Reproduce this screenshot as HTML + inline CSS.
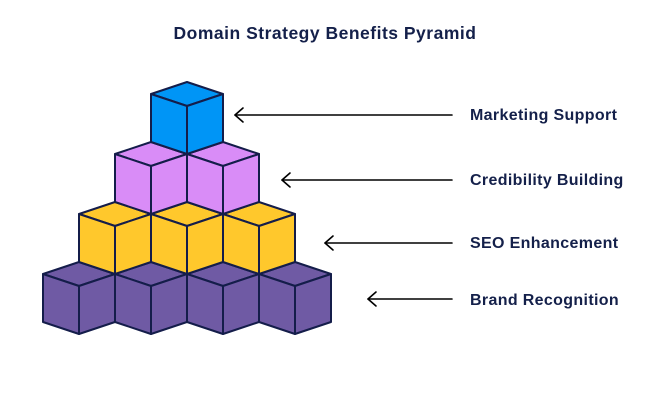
<!DOCTYPE html>
<html><head><meta charset="utf-8"><style>
html,body{margin:0;padding:0;background:#fff;width:650px;height:400px;overflow:hidden}
svg text{font-family:"Liberation Sans",sans-serif;fill:#14204a;font-weight:bold}
</style></head><body>
<svg id="s" width="650" height="400" viewBox="0 0 650 400" xmlns="http://www.w3.org/2000/svg">
<text x="325" y="39" text-anchor="middle" font-size="17.5" letter-spacing="0.5">Domain Strategy Benefits Pyramid</text>
<g stroke="#000" stroke-width="1.6" fill="none" stroke-linecap="round" stroke-linejoin="round">
<line x1="452" y1="115" x2="235" y2="115"/><polyline points="243,108 235,115 243,122"/>
<line x1="452" y1="180" x2="282" y2="180"/><polyline points="290,173 282,180 290,187"/>
<line x1="452" y1="243" x2="325" y2="243"/><polyline points="333,236 325,243 333,250"/>
<line x1="452" y1="299" x2="368" y2="299"/><polyline points="376,292 368,299 376,306"/>
</g>
<text x="470" y="120" font-size="16" letter-spacing="0.35">Marketing Support</text>
<text x="470" y="185" font-size="16" letter-spacing="0.35">Credibility Building</text>
<text x="470" y="248" font-size="16" letter-spacing="0.35">SEO Enhancement</text>
<text x="470" y="305" font-size="16" letter-spacing="0.35">Brand Recognition</text>
<g id="cubes" stroke="#141d4a" stroke-width="2" stroke-linejoin="round"></g>
</svg>
<script>
var g=document.getElementById('cubes'),h='';
var rows=[{y:262,xs:[79,151,223,295],c:'#6f5aa4'},{y:202,xs:[115,187,259],c:'#ffc82c'},{y:142,xs:[151,223],c:'#d98cf7'},{y:82,xs:[187],c:'#0095f6'}];
rows.forEach(function(r){r.xs.forEach(function(x){var y=r.y;
var top=[x,y,x+36,y+12,x,y+24,x-36,y+12];
var L=[x-36,y+12,x,y+24,x,y+72,x-36,y+60];
var R=[x,y+24,x+36,y+12,x+36,y+60,x,y+72];
function p(a){var s='';for(var i=0;i<a.length;i+=2)s+=a[i]+','+a[i+1]+' ';return s}
h+='<polygon fill="'+r.c+'" points="'+p(top)+'"/><polygon fill="'+r.c+'" points="'+p(L)+'"/><polygon fill="'+r.c+'" points="'+p(R)+'"/>';
});});
g.innerHTML=h;
</script>
</body></html>
